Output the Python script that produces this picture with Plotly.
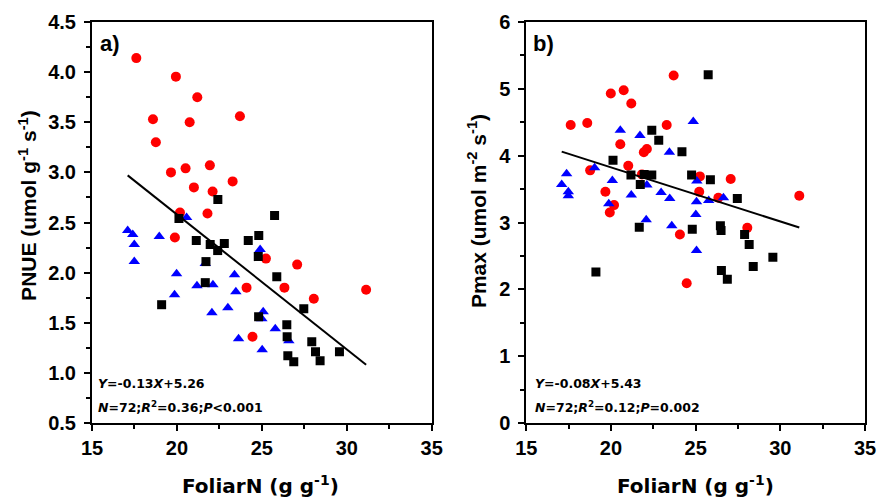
import plotly.graph_objects as go

# ---------------- data ----------------
# Panel a) PNUE vs FoliarN
red_a_x = [17.61, 19.94, 21.2, 18.59, 20.75, 23.71, 18.76, 19.65, 20.51, 21.94, 23.28, 21.0,
           22.1, 20.18, 21.8, 19.88, 25.24, 27.08, 24.1, 26.33, 28.06, 31.14, 24.45]
red_a_y = [4.14, 3.955, 3.75, 3.53, 3.50, 3.56, 3.30, 3.0, 3.04, 3.07, 2.91, 2.85,
           2.81, 2.6, 2.59, 2.35, 2.14, 2.08, 1.85, 1.85, 1.74, 1.83, 1.36]

blue_a_x = [20.57, 17.1, 17.4, 17.49, 17.49, 18.96, 19.98, 19.86, 21.18, 22.12, 21.67,
            22.06, 23.0, 23.39, 23.47, 23.63, 24.9, 25.08, 25.0, 25.02, 25.79, 26.59]
blue_a_y = [2.55, 2.42, 2.38, 2.28, 2.11, 2.36, 1.99, 1.78, 1.87, 1.88, 2.09,
            1.6, 1.65, 1.98, 1.81, 1.34, 2.23, 1.61, 1.54, 1.23, 1.44, 1.32]

black_a_x = [22.41, 25.75, 20.12, 21.14, 24.82, 24.2, 22.79, 21.96, 22.4, 24.79, 21.71, 21.67,
             25.88, 19.1, 27.47, 24.81, 26.47, 26.49, 27.94, 26.53, 26.88, 28.16, 28.43, 29.57]
black_a_y = [2.73, 2.57, 2.54, 2.32, 2.37, 2.32, 2.29, 2.28, 2.22, 2.16, 2.11, 1.9,
             1.96, 1.68, 1.64, 1.56, 1.48, 1.36, 1.31, 1.17, 1.11, 1.21, 1.12, 1.21]

fit_a = [-0.1345, 5.27]   # slope, intercept of drawn regression line

# Panel b) Pmax vs FoliarN
red_b_x = [17.62, 18.6, 19.99, 20.75, 21.2, 23.7, 23.29, 20.55, 21.94, 22.12, 18.77, 21.02,
           21.83, 25.25, 27.07, 19.67, 25.21, 20.18, 19.93, 26.34, 31.12, 24.07, 28.05, 24.47]
red_b_y = [4.46, 4.49, 4.93, 4.98, 4.78, 5.2, 4.46, 4.17, 4.05, 4.1, 3.78, 3.85,
           3.72, 3.69, 3.65, 3.46, 3.46, 3.26, 3.15, 3.37, 3.4, 2.82, 2.92, 2.09]

blue_b_x = [24.86, 20.55, 21.71, 23.45, 19.03, 17.38, 17.09, 17.48, 17.48, 20.08, 22.12, 21.2,
            22.96, 23.47, 19.87, 25.07, 25.05, 25.77, 26.64, 25.01, 22.08, 23.59, 25.05]
blue_b_y = [4.51, 4.38, 4.3, 4.05, 3.82, 3.73, 3.57, 3.46, 3.4, 3.63, 3.56, 3.41,
            3.45, 3.36, 3.28, 3.62, 3.31, 3.33, 3.37, 3.12, 3.04, 2.95, 2.58]

black_b_x = [25.74, 22.41, 22.82, 24.19, 20.12, 21.18, 21.96, 22.41, 24.76, 25.87, 21.73, 27.46,
             21.67, 24.8, 26.46, 26.5, 27.89, 28.16, 19.11, 26.52, 26.87, 28.4, 29.56]
black_b_y = [5.21, 4.38, 4.23, 4.06, 3.93, 3.71, 3.72, 3.71, 3.71, 3.64, 3.57, 3.36,
             2.93, 2.9, 2.95, 2.88, 2.82, 2.67, 2.26, 2.28, 2.15, 2.34, 2.48]

fit_b = [-0.081, 5.445]

x_ticks = [15, 20, 25, 30, 35]
ya_ticks = [0.5, 1.0, 1.5, 2.0, 2.5, 3.0, 3.5, 4.0, 4.5]
yb_ticks = [0, 1, 2, 3, 4, 5, 6]

panel_labels = ["a)", "b)"]
eq_a = ["<i>Y</i>=-0.13<i>X</i>+5.26", "<i>N</i>=72;<i>R</i><sup>2</sup>=0.36;<i>P</i>&lt;0.001"]
eq_b = ["<i>Y</i>=-0.08<i>X</i>+5.43", "<i>N</i>=72;<i>R</i><sup>2</sup>=0.12;<i>P</i>=0.002"]

# ---------------- figure ----------------
RED, BLUE, BLACK = "#ff0000", "#0000ff", "#000000"
fig = go.Figure()


def add_panel(xa, ya, rx, ry, bx, by, kx, ky, fit):
    fig.add_trace(go.Scatter(x=rx, y=ry, mode="markers", xaxis=xa, yaxis=ya,
                             marker=dict(symbol="circle", size=10, color=RED, line=dict(width=0))))
    fig.add_trace(go.Scatter(x=bx, y=by, mode="markers", xaxis=xa, yaxis=ya,
                             marker=dict(symbol="triangle-up", size=10, color=BLUE, line=dict(width=0))))
    fig.add_trace(go.Scatter(x=kx, y=ky, mode="markers", xaxis=xa, yaxis=ya,
                             marker=dict(symbol="square", size=9, color=BLACK, line=dict(width=0))))
    allx = rx + bx + kx
    x0, x1 = min(allx), max(allx)
    fig.add_trace(go.Scatter(x=[x0, x1], y=[fit[0] * x0 + fit[1], fit[0] * x1 + fit[1]],
                             mode="lines", xaxis=xa, yaxis=ya,
                             line=dict(color=BLACK, width=2)))


add_panel("x", "y", red_a_x, red_a_y, blue_a_x, blue_a_y, black_a_x, black_a_y, fit_a)
add_panel("x2", "y2", red_b_x, red_b_y, blue_b_x, blue_b_y, black_b_x, black_b_y, fit_b)

tickfont = dict(family="Liberation Sans, Arial", size=20, color="black", weight="bold")
common_axis = dict(showgrid=False, zeroline=False, showline=True, linecolor="black", linewidth=2,
                   mirror=True, ticks="outside", ticklen=6, tickwidth=2, tickcolor="black",
                   tickfont=tickfont)
minor_x = dict(dtick=2.5, tick0=15, ticks="outside", ticklen=4, tickwidth=2, tickcolor="black")

W, H = 879, 501
L, R, T, B = 92, 11, 19, 78
EXTRA_W = 8          # compensates the narrower paper observed in the renderer
pw = W - L - R
ph = H - T - B
dom_a = [0, (433 - L) / pw]
dom_b = [(528 - L) / pw, 1]

fig.update_layout(
    width=W + EXTRA_W, height=H, autosize=False, margin=dict(l=L, r=R, t=T, b=B),
    plot_bgcolor="white", paper_bgcolor="white", showlegend=False,
    xaxis=dict(domain=dom_a, range=[15, 35], tickvals=x_ticks, anchor="y",
               minor=minor_x, ticklabelstandoff=0, **common_axis),
    yaxis=dict(domain=[0, 1], range=[0.5, 4.5], tickvals=ya_ticks, tickformat=".1f", anchor="x",
               minor=dict(dtick=0.25, tick0=0.5, ticks="outside", ticklen=4, tickwidth=2, tickcolor="black"),
               ticklabelstandoff=4, **common_axis),
    xaxis2=dict(domain=dom_b, range=[15, 35], tickvals=x_ticks, anchor="y2",
                minor=minor_x, ticklabelstandoff=0, **common_axis),
    yaxis2=dict(domain=[0, 1], range=[0, 6], tickvals=yb_ticks, anchor="x2",
                minor=dict(dtick=0.5, tick0=0, ticks="outside", ticklen=4, tickwidth=2, tickcolor="black"),
                ticklabelstandoff=4, **common_axis),
)


def px_to_paper_x(px):
    return (px - L) / pw


def px_to_paper_y(py):
    return (H - B - py) / ph


ann = []
title_font = dict(family="Liberation Sans, Arial", size=21, color="black", weight="bold")
xtitle_font = dict(family="DejaVu Sans", size=20, color="black", weight="bold")
eq_font = dict(family="DejaVu Sans", size=12.5, color="black", weight="bold")
lab_font = dict(family="Liberation Sans, Arial", size=22, color="black", weight="bold")

# x titles
for cx in [(181 + 342) / 2, (620 + 776) / 2]:
    ann.append(dict(text="FoliarN (g g<sup>-1</sup>)", x=px_to_paper_x(cx), y=px_to_paper_y(485),
                    xref="paper", yref="paper", showarrow=False, xanchor="center", yanchor="middle",
                    font=xtitle_font))
# y titles
ann.append(dict(text="PNUE (umol g<sup>-1</sup> s<sup>-1</sup>)", x=px_to_paper_x(27), y=px_to_paper_y(204),
                xref="paper", yref="paper", showarrow=False, textangle=-90,
                xanchor="center", yanchor="middle", font=title_font))
ann.append(dict(text="Pmax (umol m<sup>-2</sup> s<sup>-1</sup>)", x=px_to_paper_x(478), y=px_to_paper_y(210),
                xref="paper", yref="paper", showarrow=False, textangle=-90,
                xanchor="center", yanchor="middle", font=title_font))
# panel labels
for lab, px in zip(panel_labels, [98, 533]):
    ann.append(dict(text=lab, x=px_to_paper_x(px), y=px_to_paper_y(41), xref="paper", yref="paper",
                    showarrow=False, xanchor="left", yanchor="middle", font=lab_font))
# equations
for lines, px in [(eq_a, 96), (eq_b, 535)]:
    for txt, py in zip(lines, [383, 407]):
        ann.append(dict(text=txt, x=px_to_paper_x(px), y=px_to_paper_y(py), xref="paper", yref="paper",
                        showarrow=False, xanchor="left", yanchor="middle", font=eq_font))

fig.update_layout(annotations=ann)
fig.write_html("out.html",
               config={"responsive": False, "displayModeBar": False, "staticPlot": True},
               post_script="document.body.style.margin='0';document.body.style.overflow='hidden';")
